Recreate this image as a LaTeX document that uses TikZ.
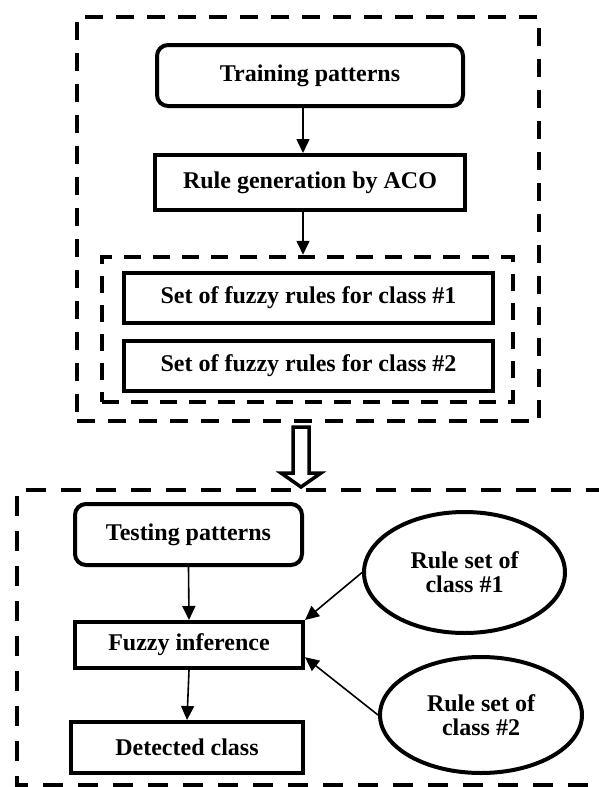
\documentclass[tikz,border=0pt]{standalone}
\usepackage{fontspec}
\setmainfont{Liberation Serif}
\usetikzlibrary{arrows.meta,shapes.geometric}

\begin{document}
\begin{tikzpicture}[x=1pt,y=-1pt,
    font=\fontsize{24}{24}\selectfont\bfseries,
    box/.style={draw,line width=4pt,inner sep=0pt,align=center},
    roundbox/.style={box,rounded corners=11pt},
    dashbox/.style={draw,line width=4.5pt,dash pattern=on 18pt off 13pt,inner sep=0pt},
    rulesell/.style={draw,ellipse,line width=4pt,inner sep=0pt,align=center},
    flow/.style={line width=1.6pt,-{Triangle[length=14pt,width=13pt]}}]
    \useasboundingbox (0,0) rectangle (599,787);

    % training part
    \node[dashbox,minimum width=462pt,minimum height=404pt] (trainpart) at (308,219) {};
    \node[roundbox,minimum width=306pt,minimum height=61pt] (train) at (310,75.5) {Training patterns};
    \node[box,minimum width=310pt,minimum height=55pt] (aco) at (310,182.5) {Rule generation by ACO};
    \node[dashbox,minimum width=411pt,minimum height=145pt,dash pattern=on 17pt off 12pt] (rules) at (307.5,329.5) {};
    \node[box,minimum width=369pt,minimum height=50pt] (set1) at (308.5,298) {Set of fuzzy rules for class \#1};
    \node[box,minimum width=369pt,minimum height=50pt] (set2) at (308.5,366) {Set of fuzzy rules for class \#2};

    \draw[flow] ([xshift=-7pt]train.south) -- ([xshift=-7pt]aco.north);
    \draw[flow] ([xshift=-7pt]aco.south) -- ([xshift=-4.5pt]rules.north);

    % hollow arrow
    \draw[line width=3.5pt,line join=miter] (293,427) -- (293,473) -- (281,473) -- (301,487)
        -- (321,473) -- (309,473) -- (309,427) -- cycle;

    % testing part
    \draw[line width=4.5pt,dash pattern=on 20pt off 15pt] (606,490) -- (17,490) -- (17,785) -- (606,785);
    \node[roundbox,minimum width=227pt,minimum height=61pt] (test) at (188.5,534.5) {Testing patterns};
    \node[box,minimum width=228pt,minimum height=46pt] (fuzzy) at (189,645) {Fuzzy inference};
    \node[box,minimum width=232pt,minimum height=51pt] (detect) at (187,747.5) {Detected class};
    \node[rulesell,minimum width=201pt,minimum height=121pt] (ell1) at (464.5,572.5) {Rule set of\\class \#1};
    \node[rulesell,minimum width=202pt,minimum height=116pt] (ell2) at (481,715) {Rule set of\\class \#2};

    \draw[flow] (test.south) -- (fuzzy.north);
    \draw[flow] (fuzzy.south) -- (detect.north);
    \draw[flow] (ell1.west) -- (fuzzy.north east);
    \draw[flow] (ell2.west) -- (fuzzy.-6);
\end{tikzpicture}
\end{document}
